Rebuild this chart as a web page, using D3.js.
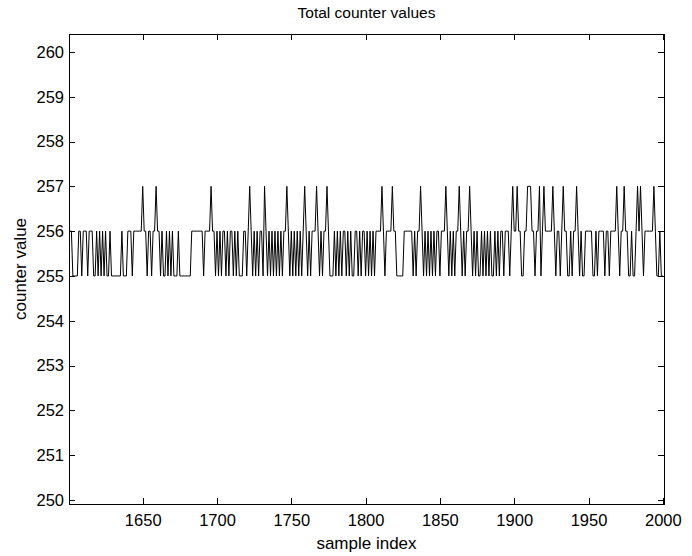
<!DOCTYPE html>
<html lang="en">
<head>
<meta charset="UTF-8">
<title>Total counter values</title>
<script src="https://d3js.org/d3.v7.min.js"></script>
<style>
  body { margin: 0; background: #fff; }
  text { font-family: "Liberation Sans", Arial, Helvetica, sans-serif; fill: #000; }
</style>
</head>
<body>
<script>
// samples start at index 1601, one value per sample
const firstSample = 1601;
const counterValues = [
  256,256,255,255,255,255,256,256,255,256,256,256,255,256,256,256,255,255,256,255,
  256,255,256,255,256,255,255,256,255,255,255,255,255,255,255,256,255,255,255,256,
  256,256,255,256,256,256,256,256,256,257,256,256,255,256,256,255,256,256,257,256,
  256,255,256,255,255,256,255,256,255,256,255,255,255,256,255,255,255,255,255,255,
  255,255,256,256,256,256,256,256,256,256,255,256,256,256,256,257,256,256,255,256,
  255,256,255,256,256,255,256,255,256,256,255,256,255,256,255,255,255,256,256,255,
  256,257,256,255,256,255,256,255,256,256,255,257,256,255,256,255,256,255,256,255,
  256,255,256,255,256,256,257,256,255,256,255,256,255,256,255,256,255,256,257,256,
  255,256,255,256,256,256,257,256,255,256,255,256,256,257,256,255,255,255,256,255,
  256,255,256,255,256,256,255,256,255,256,255,255,256,256,255,256,255,256,256,255,
  256,255,256,255,256,255,256,256,256,256,257,256,255,256,256,256,256,257,256,256,
  255,255,255,255,255,256,256,256,256,256,256,255,256,255,256,256,257,256,255,256,
  255,256,255,256,255,256,255,256,256,255,256,256,256,257,256,255,256,255,256,255,
  256,256,257,256,255,256,255,256,256,257,256,255,256,255,256,255,255,256,255,256,
  255,256,255,256,255,255,256,255,256,255,256,256,255,256,256,256,255,256,257,256,
  256,257,256,256,255,255,256,256,257,257,257,256,256,255,256,256,257,255,256,257,
  256,256,256,256,256,257,256,255,256,256,255,256,257,256,256,255,255,256,255,256,
  256,257,256,255,256,255,255,256,256,256,256,256,255,255,256,255,256,256,256,256,
  255,256,256,255,256,256,256,256,257,256,255,256,256,257,256,256,255,255,256,255,
  255,256,257,256,257,256,255,256,256,256,256,256,256,257,256,255,255,256,255,255
];
const xTicks = [1650, 1700, 1750, 1800, 1850, 1900, 1950, 2000];
const yTicks = [250, 251, 252, 253, 254, 255, 256, 257, 258, 259, 260];

const width = 692, height = 556;
const margin = {left: 69, right: 28, top: 34, bottom: 52};
const tick = 6;

const svg = d3.select("body").append("svg")
  .attr("width", width)
  .attr("height", height);

const x = d3.scaleLinear()
  .domain([1600.4, 2000.8])
  .range([margin.left, width - margin.right]);

const y = d3.scaleLinear()
  .domain([249.91, 260.4])
  .range([height - margin.bottom, margin.top]);

// data line
const points = counterValues.map((v, i) => [firstSample + i, v]);
svg.append("path")
  .datum(points)
  .attr("fill", "none")
  .attr("stroke", "#000")
  .attr("stroke-width", 1)
  .attr("d", d3.line().x(d => x(d[0])).y(d => y(d[1])));

// axes, ticks pointing inward on all four sides
const axisB = svg.append("g")
  .attr("transform", `translate(0,${height - margin.bottom})`)
  .call(d3.axisBottom(x).tickValues(xTicks).tickSizeInner(-tick).tickSizeOuter(0).tickPadding(10).tickFormat(d3.format("d")));
const axisT = svg.append("g")
  .attr("transform", `translate(0,${margin.top})`)
  .call(d3.axisTop(x).tickValues(xTicks).tickSizeInner(-tick).tickSizeOuter(0).tickFormat(""));
const axisL = svg.append("g")
  .attr("transform", `translate(${margin.left},0)`)
  .call(d3.axisLeft(y).tickValues(yTicks).tickSizeInner(-tick).tickSizeOuter(0).tickPadding(5).tickFormat(d3.format("d")));
const axisR = svg.append("g")
  .attr("transform", `translate(${width - margin.right},0)`)
  .call(d3.axisRight(y).tickValues(yTicks).tickSizeInner(-tick).tickSizeOuter(0).tickFormat(""));

[axisB, axisT, axisL, axisR].forEach(g => {
  g.select(".domain").remove();
  g.selectAll(".tick line").attr("stroke", "#000").attr("shape-rendering", "crispEdges");
  g.selectAll(".tick text").attr("font-size", "16.5px").attr("fill", "#000")
    .style("font-family", "'Liberation Sans', Arial, sans-serif");
});

// box
svg.append("rect")
  .attr("x", margin.left)
  .attr("y", margin.top)
  .attr("width", width - margin.left - margin.right)
  .attr("height", height - margin.top - margin.bottom)
  .attr("fill", "none")
  .attr("stroke", "#000")
  .attr("shape-rendering", "crispEdges");

// labels
svg.append("text")
  .attr("x", (margin.left + width - margin.right) / 2)
  .attr("y", 18)
  .attr("text-anchor", "middle")
  .attr("font-size", "15.5px")
  .text("Total counter values");

svg.append("text")
  .attr("x", (margin.left + width - margin.right) / 2)
  .attr("y", 549)
  .attr("text-anchor", "middle")
  .attr("font-size", "17px")
  .text("sample index");

svg.append("text")
  .attr("transform", `translate(26,${(margin.top + height - margin.bottom) / 2}) rotate(-90)`)
  .attr("text-anchor", "middle")
  .attr("font-size", "17px")
  .text("counter value");
</script>
</body>
</html>
